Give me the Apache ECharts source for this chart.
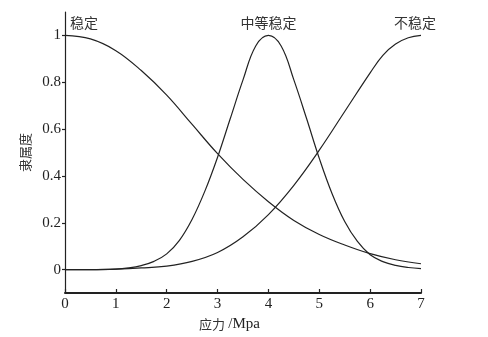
<!DOCTYPE html>
<html><head><meta charset="utf-8">
<script src="https://cdn.jsdelivr.net/npm/echarts@6/dist/echarts.min.js"></script>
<style>html,body{margin:0;padding:0;background:#fff}#c{width:488px;height:337px}</style>
</head><body><div id="c"></div>
<script>
var stableX = [0,0.5,1,1.5,2,2.5,3,3.5,4,4.5,5,5.5,6,6.5,7];
var stableY = [1.0,0.985,0.935,0.85,0.745,0.62,0.495,0.385,0.29,0.21,0.15,0.105,0.068,0.042,0.025];
var midX = [0,0.5,1,1.25,1.5,1.75,2,2.25,2.5,2.75,3,3.25,3.5,3.75,4,4.25,4.5,4.75,5,5.25,5.5,5.75,6,6.25,6.5,6.75,7];
var midY = [0,0,0.002,0.007,0.017,0.035,0.067,0.125,0.215,0.335,0.48,0.645,0.81,0.955,1.0,0.955,0.81,0.645,0.475,0.325,0.205,0.12,0.063,0.034,0.018,0.009,0.004];
var unX = [0,0.5,1,1.5,2,2.5,3,3.5,4,4.5,5,5.5,6,6.25,6.5,6.75,7];
var unY = [0,0,0.002,0.007,0.015,0.035,0.073,0.14,0.235,0.36,0.51,0.675,0.84,0.915,0.963,0.99,1.0];
var yTicks = [0,0.2,0.4,0.6,0.8,1];
var names = ['稳定','中等稳定','不稳定'];

function pairs(xs, ys){ return xs.map(function(x,i){ return [x, ys[i]]; }); }
function withLabel(data, idx, off){
  data[idx] = {value: data[idx], label:{show:true, position:'top', offset:off, distance:5,
    fontFamily:'Noto Sans CJK SC', fontSize:14, color:'#333', formatter: function(p){return p.seriesName;}}};
  return data;
}
var lineStyle = {color:'#222', width:1.2};
function ser(i, xs, ys, idx, off){
  return {name:names[i], type:'line', smooth:0.4, symbol:'circle', symbolSize:1, showSymbol:true,
    itemStyle:{color:'rgba(0,0,0,0)'}, lineStyle:lineStyle, emphasis:{disabled:true},
    data: withLabel(pairs(xs, ys), idx, off)};
}
var chart = echarts.init(document.getElementById('c'));
chart.setOption({
  animation:false,
  grid:{left:65, right:67, top:12, bottom:44},
  xAxis:{type:'value', min:0, max:7, interval:1,
    name:'{a|应力} {b|/Mpa}', nameLocation:'middle', nameGap:24,
    nameTextStyle:{padding:[0,27,0,0], rich:{a:{fontFamily:'Noto Sans CJK SC', fontSize:13, color:'#333'}, b:{fontFamily:'Liberation Serif', fontSize:15, color:'#222'}}},
    axisLine:{onZero:false, lineStyle:{color:'#222', width:2}},
    axisTick:{inside:true, length:4, lineStyle:{color:'#222', width:1.2}},
    axisLabel:{fontFamily:'Liberation Serif', fontSize:15, color:'#222', margin:4},
    splitLine:{show:false}},
  yAxis:{type:'value', min:-0.1, max:1.1,
    name:'隶属度', nameLocation:'middle', nameGap:33, nameRotate:90,
    nameTextStyle:{fontFamily:'Noto Sans CJK SC', fontSize:13, color:'#333'},
    axisLine:{show:true, onZero:false, lineStyle:{color:'#222', width:1.2}},
    axisTick:{show:true, length:3, customValues:yTicks, lineStyle:{color:'#222', width:1.2}},
    axisLabel:{customValues:yTicks, fontFamily:'Liberation Serif', fontSize:15, color:'#222', margin:4},
    splitLine:{show:false}},
  series:[
    ser(0, stableX, stableY, 0, [19,0]),
    ser(1, midX, midY, 14, [0,0]),
    ser(2, unX, unY, 16, [-6,0])
  ]
});
</script></body></html>
